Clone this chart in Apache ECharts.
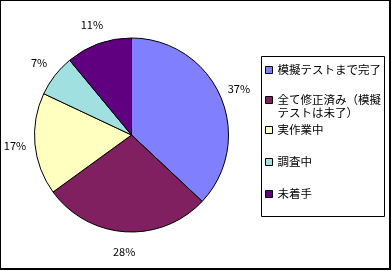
<!DOCTYPE html>
<html>
<head>
<meta charset="utf-8">
<script src="https://cdn.jsdelivr.net/npm/echarts@6/dist/echarts.min.js"></script>
<style>html,body{margin:0;padding:0;background:#fff;}#c{width:392px;height:271px;}</style>
</head>
<body>
<div id="c"></div>
<script>
const categories = ['模擬テストまで完了', '全て修正済み（模擬テストは未了）', '実作業中', '調査中', '未着手'];
const values = [37, 28, 17, 7, 11];
const colors = ['#8080FF', '#802060', '#FFFFC0', '#A0E0E0', '#600080'];
const legendLabels = ['模擬テストまで完了', '\n全て修正済み（模擬\nテストは未了）', '実作業中', '調査中', '未着手'];
const legendCenters = [70, 100, 130, 162, 194];

const font = '"Noto Sans CJK JP", sans-serif';
const chart = echarts.init(document.getElementById('c'), null, {renderer: 'canvas'});

const pieData = categories.map((n, i) => ({name: n, value: values[i], itemStyle: {color: colors[i]}}));

const legends = categories.map((n, i) => {
  const lines = legendLabels[i].split('\n').length;
  const lh = lines > 1 ? 13 : 14;
  return {
    left: 265,
    top: legendCenters[i] - (lines * lh) / 2,
    orient: 'vertical',
    padding: 0,
    data: [n],
    itemWidth: 7,
    itemHeight: 7,
    icon: 'rect',
    selectedMode: false,
    formatter: () => legendLabels[i],
    itemStyle: {borderColor: '#000', borderWidth: 1},
    textStyle: {fontFamily: font, fontSize: 11.5, color: '#000', lineHeight: lh}
  };
});

chart.setOption({
  animation: false,
  backgroundColor: '#fff',
  legend: legends,
  graphic: [
    {type: 'rect', shape: {x: 0, y: 0, width: 390, height: 269}, style: {fill: null, stroke: '#000', lineWidth: 2}, silent: true},
    {type: 'rect', shape: {x: 261.5, y: 56.5, width: 123, height: 160}, style: {fill: null, stroke: '#000', lineWidth: 1}, silent: true}
  ],
  series: [
    {
      type: 'pie',
      center: [131.5, 135],
      radius: [0, 97],
      startAngle: 90,
      clockwise: true,
      silent: true,
      label: {show: false},
      labelLine: {show: false},
      itemStyle: {borderColor: '#000', borderWidth: 1},
      data: pieData
    },
    {
      type: 'pie',
      center: [131.5, 135],
      radius: [98, 130],
      startAngle: 90,
      clockwise: true,
      silent: true,
      itemStyle: {color: 'rgba(0,0,0,0)', borderWidth: 0},
      label: {show: true, position: 'inside', formatter: '{d}%', fontFamily: font, fontSize: 11, color: '#000'},
      labelLine: {show: false},
      data: categories.map((n, i) => ({name: n, value: values[i]}))
    }
  ]
});
</script>
</body>
</html>
